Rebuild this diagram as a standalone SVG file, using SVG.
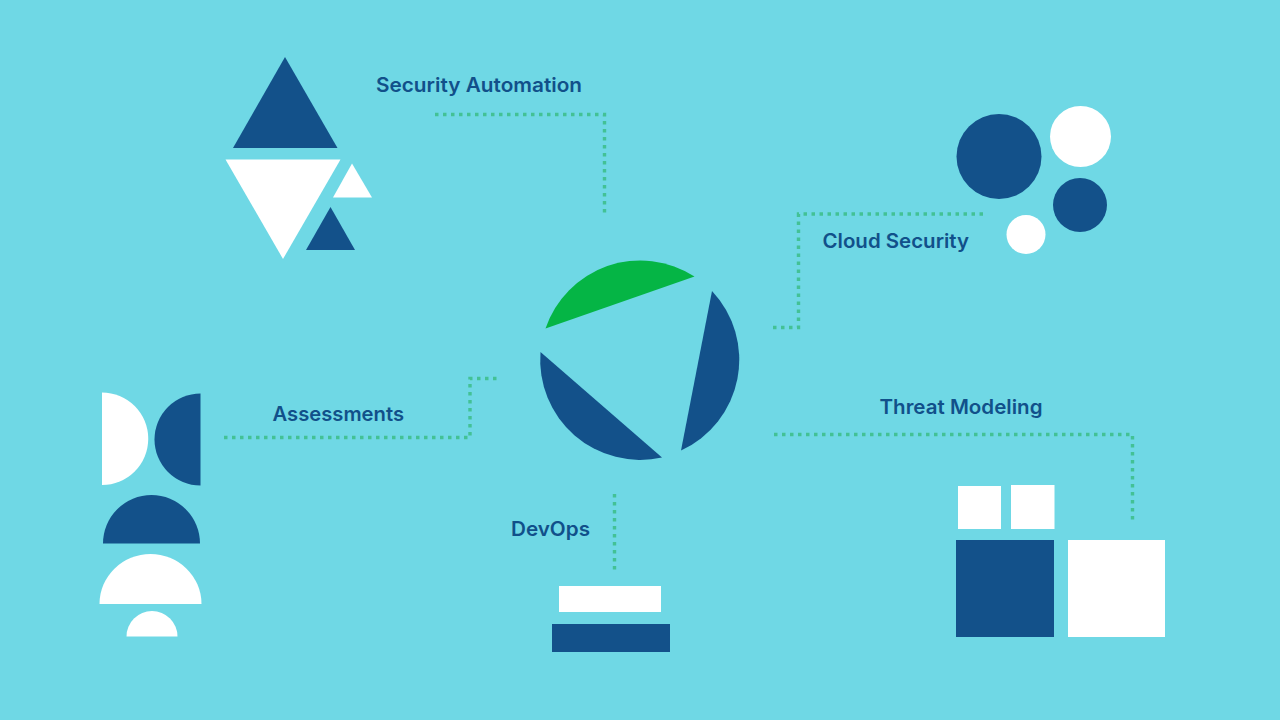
<svg xmlns="http://www.w3.org/2000/svg" width="1280" height="720" viewBox="0 0 1280 720">
<style>
.b{fill:#13518a}
.w{fill:#fff}
.g{fill:#05b545}
.c{fill:none;stroke:#43c195;stroke-width:3.400;stroke-dasharray:3.500 4.500}
text{font-family:"Inter","Liberation Sans",sans-serif;font-weight:600;font-size:20px;fill:#11508a}
</style>
<rect width="1280" height="720" fill="#6fd8e5"/>
<g id="connectors">
<path class="c" d="M435 114.500H604.500V213"/>
<path class="c" d="M983 214H798.500V327.500H772"/>
<path class="c" d="M224 437.500H470V378.500H500"/>
<path class="c" d="M614.500 494V570"/>
<path class="c" d="M774 434.500H1132.500V520"/>
</g>
<g id="hub">
<path class="g" d="M545.500 328.500A100 100 0 0 1 694.500 276.500Z"/>
<path class="b" d="M712 291A100 100 0 0 1 681 450.500Z"/>
<path class="b" d="M540.500 352A100 100 0 0 0 662 457.500Z"/>
</g>
<g id="security-automation">
<path class="b" d="M285 57L337.500 148H233Z"/>
<path class="w" d="M225.500 159.500H340.500L283 259Z"/>
<path class="w" d="M352 163.500L372 197.500H333Z"/>
<path class="b" d="M330.500 207L355 250H306Z"/>
<text x="376" y="92" textLength="206" lengthAdjust="spacingAndGlyphs">Security Automation</text>
</g>
<g id="cloud-security">
<circle class="b" cx="999" cy="156.500" r="42.500"/>
<circle class="w" cx="1080.500" cy="136.500" r="30.500"/>
<circle class="b" cx="1080" cy="205" r="27"/>
<circle class="w" cx="1026" cy="234.500" r="19.500"/>
<text x="822.500" y="248" textLength="146.500" lengthAdjust="spacingAndGlyphs">Cloud Security</text>
</g>
<g id="assessments">
<path class="w" d="M102 392.500A46 46 0 0 1 102 485Z"/>
<path class="b" d="M200.500 393.500A46 46 0 0 0 200.500 485.500Z"/>
<path class="b" d="M103 543.500A48.500 48.500 0 0 1 200 543.500Z"/>
<path class="w" d="M99.500 604A51 50 0 0 1 201.500 604Z"/>
<path class="w" d="M126.500 636.500A25.500 25.500 0 0 1 177.500 636.500Z"/>
<text x="272.500" y="421" textLength="131.500" lengthAdjust="spacingAndGlyphs">Assessments</text>
</g>
<g id="devops">
<rect class="w" x="559" y="586" width="102" height="26"/>
<rect class="b" x="552" y="624" width="118" height="28"/>
<text x="511" y="536" textLength="79" lengthAdjust="spacingAndGlyphs">DevOps</text>
</g>
<g id="threat-modeling">
<rect class="w" x="958" y="486" width="43" height="43"/>
<rect class="w" x="1011" y="485" width="43.500" height="44"/>
<rect class="b" x="956" y="540" width="98" height="97"/>
<rect class="w" x="1068" y="540" width="97" height="97"/>
<text x="879.500" y="414" textLength="163" lengthAdjust="spacingAndGlyphs">Threat Modeling</text>
</g>
</svg>
